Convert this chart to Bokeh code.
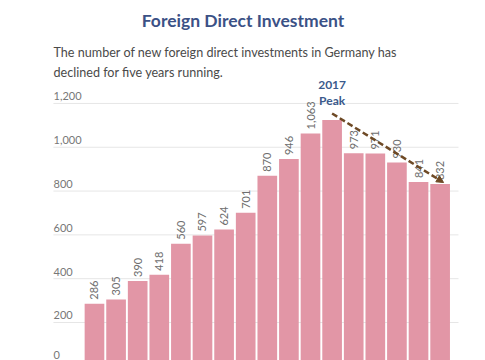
from bokeh.plotting import figure
from bokeh.models import ColumnDataSource, LabelSet, Label, Arrow, NormalHead, Range1d
from bokeh.core.properties import value
from bokeh.embed import file_html
from bokeh.resources import INLINE
import math

years = [str(y) for y in range(2006, 2023)]
values = [286, 305, 390, 418, 560, 597, 624, 701, 870, 946, 1063, 1124, 973, 971, 930, 841, 832]
value_labels = ["286", "305", "390", "418", "560", "597", "624", "701", "870", "946", "1,063", "", "973", "971", "930", "841", "832"]
y_ticks = [0, 200, 400, 600, 800, 1000, 1200]
y_tick_labels = ["0", "200", "400", "600", "800", "1,000", "1,200"]
title_text = "Foreign Direct Investment"
subtitle_lines = ["The number of new foreign direct investments in Germany has",
                  "declined for five years running."]
peak_year = "2017"

n = len(values)
xs = list(range(n))
peak_idx = values.index(max(values))

W, H = 485, 360
p = figure(width=W, height=H, output_backend="svg", toolbar_location=None,
           x_range=Range1d(-4.35, 18.10), y_range=Range1d(26.5, 1670),
           min_border=0, x_axis_location=None, y_axis_location=None)
p.outline_line_color = None
p.xgrid.visible = False
p.ygrid.visible = False
p.background_fill_color = "white"
p.border_fill_color = "white"

FONT = "Lato"

# gridlines
p.segment(x0=[-1.9] * len(y_ticks), x1=[n - 1 + 0.85] * len(y_ticks), y0=y_ticks, y1=y_ticks,
          line_color="#e6e6e6", line_width=1)

# y tick labels (the zero label is nudged up so it stays inside the picture)
tick_src = ColumnDataSource(dict(y=y_ticks[1:], text=y_tick_labels[1:]))
p.add_layout(LabelSet(x=53, x_units="screen", y="y", text="text", source=tick_src,
                      text_align="left", text_baseline="bottom", y_offset=3,
                      text_font=value(FONT), text_font_size=value("11px"), text_color="#777777"))
p.add_layout(Label(x=53, x_units="screen", y=y_ticks[0], text=y_tick_labels[0],
                   text_align="left", text_baseline="bottom", y_offset=7,
                   text_font=FONT, text_font_size="11px", text_color="#777777"))

# bars
src = ColumnDataSource(dict(x=xs, top=values, label=value_labels, year=years))
p.vbar(x="x", top="top", bottom=0, width=0.91, source=src,
       fill_color="#e296a6", line_color=None)

# value labels
p.add_layout(LabelSet(x="x", y="top", text="label", source=src, angle=math.pi / 2,
                      text_align="left", text_baseline="middle", y_offset=4,
                      text_font=value(FONT), text_font_size=value("11px"), text_color="#6e6e6e"))

# title & subtitle
p.add_layout(Label(x=242.5, y=H - 20, x_units="screen", y_units="screen", text=title_text,
                   text_align="center", text_baseline="middle", text_font=FONT,
                   text_font_style="bold", text_font_size="17.5px", text_color="#3b5186"))
for i, line in enumerate(subtitle_lines):
    p.add_layout(Label(x=53, y=H - 52 - 19.5 * i, x_units="screen", y_units="screen", text=line,
                       text_align="left", text_baseline="middle", text_font=FONT,
                       text_font_size="12.6px", text_color="#4a4a4a"))

# peak annotation
p.add_layout(Label(x=peak_idx, y=values[peak_idx], y_offset=35, text=peak_year,
                   text_align="center", text_baseline="middle", text_font=FONT,
                   text_font_style="bold", text_font_size="12px", text_color="#3b5a8c"))
p.add_layout(Label(x=peak_idx, y=values[peak_idx], y_offset=20, text="Peak",
                   text_align="center", text_baseline="middle", text_font=FONT,
                   text_font_style="bold", text_font_size="12px", text_color="#3b5a8c"))

p.add_layout(Arrow(x_start=peak_idx, y_start=values[peak_idx] + 30,
                   x_end=n - 1 + 0.16, y_end=values[-1] + 7,
                   line_color="#6e4a26", line_width=2.5, line_dash="6 3",
                   end=NormalHead(size=7, fill_color="#6e4a26", line_color="#6e4a26")))

open("out.html", "w").write(file_html(p, INLINE))
